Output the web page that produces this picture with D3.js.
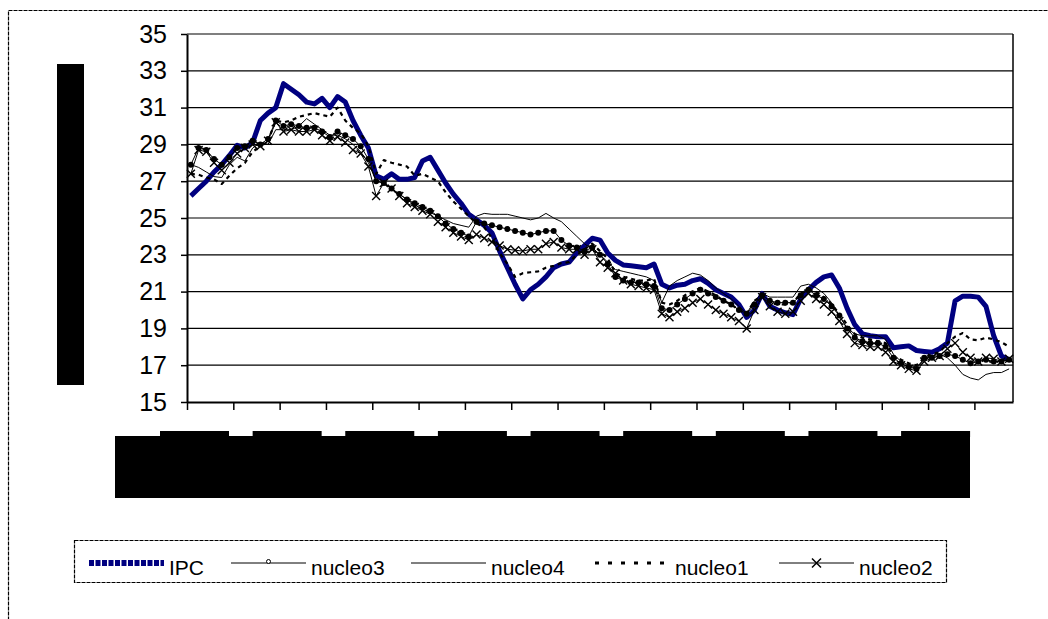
<!DOCTYPE html>
<html>
<head>
<meta charset="utf-8">
<script src="https://cdn.jsdelivr.net/npm/d3@7"></script>
<style>
  body { margin: 0; background: #fff; }
  text { font-family: Arial, "Liberation Sans", sans-serif; fill: #000; }
</style>
</head>
<body>
<div id="chart"></div>
<script>
// monthly series (107 months)
const ipc = [
  26.2, 26.6, 27.0, 27.5, 27.9, 28.4, 28.95, 28.8, 29.1, 30.3,
  30.7, 31.0, 32.3, 32.0, 31.7, 31.3, 31.2, 31.5, 31.0, 31.6,
  31.3, 30.3, 29.5, 28.8, 27.3, 27.1, 27.4, 27.1, 27.1, 27.2,
  28.1, 28.3, 27.6, 26.9, 26.3, 25.8, 25.2, 24.9, 24.6, 24.2,
  23.2, 22.3, 21.4, 20.6, 21.1, 21.4, 21.8, 22.3, 22.5, 22.6,
  23.1, 23.5, 23.9, 23.8, 23.1, 22.7, 22.45, 22.4, 22.35, 22.3,
  22.5, 21.4, 21.2, 21.35, 21.4, 21.6, 21.7, 21.45, 21.1, 20.9,
  20.7, 20.3, 19.6, 20.0, 20.9, 20.2, 20.0, 19.85, 19.75, 20.6,
  21.1, 21.5, 21.8, 21.9, 21.2, 20.1, 19.2, 18.7, 18.6, 18.55,
  18.55, 17.95, 18.0, 18.05, 17.8, 17.75, 17.7, 17.9, 18.2, 20.5,
  20.75, 20.75, 20.7, 20.2, 18.6, 17.5, 17.3
];
const nucleo3 = [
  27.9, 28.8, 28.7, 28.2, 27.9, 28.3, 28.8, 28.9, 29.2, 29.0,
  29.3, 30.3, 30.0, 30.1, 30.0, 29.9, 29.9, 29.7, 29.4, 29.7,
  29.5, 29.3, 28.9, 28.2, 27.0, 26.9, 26.6, 26.3, 26.0, 25.8,
  25.6, 25.4, 25.1, 24.7, 24.4, 24.2, 24.0, 24.8, 24.7, 24.6,
  24.5, 24.4, 24.3, 24.2, 24.1, 24.2, 24.3, 24.3, 23.8, 23.5,
  23.4, 23.2, 23.4, 23.0, 22.5, 21.8, 21.6, 21.5, 21.5, 21.4,
  21.3, 20.1, 20.0, 20.3, 20.6, 20.9, 21.1, 20.9, 20.7, 20.5,
  20.3, 20.0, 19.8, 20.3, 20.8, 20.5, 20.4, 20.4, 20.4, 20.8,
  21.1, 20.8, 20.6, 20.2, 19.7, 19.0, 18.5, 18.3, 18.2, 18.2,
  18.0, 17.4, 17.1, 16.9, 16.8, 17.4, 17.4, 17.5, 17.6, 17.5,
  17.3, 17.1, 17.2, 17.3, 17.2, 17.2, 17.3
];
const nucleo4 = [
  27.9, 27.75, 27.5, 27.25, 27.2, 27.9, 28.3, 28.1, 28.8, 29.1,
  29.0, 29.8, 29.8, 29.8, 30.0, 30.4, 30.1, 29.8, 29.5, 29.5,
  29.3, 29.0, 28.6, 28.0, 27.0, 26.9, 26.6, 26.3, 26.0, 25.7,
  25.5, 25.3, 25.1, 24.9, 24.7, 24.6, 24.5, 25.1, 25.25, 25.2,
  25.2, 25.2, 25.1, 25.0, 24.9, 25.0, 25.25, 25.0, 24.8, 24.4,
  24.0, 23.6, 23.3, 23.0, 22.6, 22.2, 22.1, 22.0, 21.9, 21.8,
  21.6, 20.4, 21.3, 21.6, 21.8, 22.0, 21.9, 21.6, 21.2, 20.9,
  20.6, 20.2, 19.8, 20.5, 20.9, 20.7, 20.7, 20.7, 20.7, 21.3,
  21.4, 21.2, 20.9, 20.4, 19.7, 19.0, 18.7, 18.6, 18.6, 18.6,
  18.4, 17.6, 17.2, 17.0, 16.9, 17.3, 17.5, 17.6, 17.4, 17.0,
  16.5, 16.3, 16.2, 16.5, 16.6, 16.6, 16.8
];
const nucleo1 = [
  27.4, 27.35, 27.2, 27.1, 26.85, 27.3, 27.7, 28.0, 28.6, 28.9,
  29.2, 30.3, 30.2, 30.3, 30.5, 30.6, 30.7, 30.6, 30.5, 31.0,
  30.3, 29.9, 29.6, 28.9, 27.4, 28.15, 28.0, 27.9, 27.8, 27.3,
  27.4, 27.2, 27.0, 26.4, 25.9, 25.5, 25.1, 24.7, 24.5, 23.9,
  23.1, 22.5, 21.8, 22.0, 22.05, 22.1, 22.3, 22.4, 22.55, 22.6,
  23.0, 23.3, 23.6, 23.2, 22.8, 22.0, 21.8, 21.7, 21.6, 21.6,
  21.7, 20.4, 20.3, 20.5, 20.8, 21.0, 21.2, 21.0, 20.8, 20.5,
  20.3, 20.0, 19.8, 20.5, 20.8, 20.4, 20.3, 20.3, 20.4, 20.9,
  21.1, 21.0, 20.7, 20.3, 19.8, 19.2, 18.7, 18.5, 18.4, 18.3,
  18.2, 17.5, 17.3, 17.1, 17.0, 17.4, 17.6, 17.7, 18.2, 18.55,
  18.75, 18.4, 18.35, 18.5, 18.4, 18.25, 18.0
];
const nucleo2 = [
  27.4, 28.7, 28.6, 28.0, 27.6, 28.0, 28.5, 28.8, 29.0, 28.9,
  29.2, 30.2, 29.7, 29.8, 29.7, 29.7, 29.8, 29.5, 29.2, 29.4,
  29.1, 28.7, 28.5, 27.8, 26.2, 26.9, 26.6, 26.2, 25.8, 25.6,
  25.4, 25.2, 24.8, 24.5, 24.2, 24.0, 23.8, 24.1, 23.9, 23.7,
  23.5, 23.3, 23.25, 23.2, 23.3, 23.3, 23.6, 23.7, 23.4, 23.3,
  23.3, 23.0, 23.3, 22.6, 22.3, 22.0, 21.6, 21.4, 21.3, 21.2,
  21.1, 19.8, 19.6, 19.9, 20.1, 20.4, 20.6, 20.3, 20.0, 19.8,
  19.6, 19.4, 19.0, 20.0, 20.7, 20.2, 19.9, 19.8, 19.9, 20.5,
  20.9, 20.6, 20.3, 19.9, 19.4, 18.7, 18.2, 18.1, 18.0, 18.0,
  17.7, 17.2, 17.0, 16.8, 16.7, 17.2, 17.4, 17.5, 17.9, 18.2,
  17.7, 17.4, 17.2, 17.4, 17.35, 17.2, 17.35
];
const seriesNames = ["IPC", "nucleo3", "nucleo4", "nucleo1", "nucleo2"];
const yTicks = [15, 17, 19, 21, 23, 25, 27, 29, 31, 33, 35];
const xTickEvery = 6; // one tick every six months

// look of each series
const styles = {
  IPC:     { values: ipc,     stroke: "#000080", width: 5,   dash: null,  marker: null },
  nucleo3: { values: nucleo3, stroke: "#000",    width: 1,   dash: null,  marker: "dot" },
  nucleo4: { values: nucleo4, stroke: "#000",    width: 1,   dash: null,  marker: null },
  nucleo1: { values: nucleo1, stroke: "#000",    width: 2.2, dash: "4,4", marker: null },
  nucleo2: { values: nucleo2, stroke: "#000",    width: 1,   dash: null,  marker: "x" }
};

const W = 1048, H = 619;
const plot = { left: 187, right: 1013, top: 34, bottom: 402 };
const n = ipc.length;

const svg = d3.select("#chart").append("svg")
  .attr("width", W).attr("height", H)
  .style("display", "block");

svg.append("rect").attr("width", W).attr("height", H).attr("fill", "#fff");

// outer frame of the chart (runs off the page on right/bottom)
svg.append("rect")
  .attr("x", 8.5).attr("y", 10.5)
  .attr("width", 1080).attr("height", 640)
  .attr("fill", "none").attr("stroke", "#000")
  .attr("stroke-width", 1.2).attr("stroke-dasharray", "4,1");

let x = d3.scaleLinear().domain([0, n]).range([plot.left, plot.right]);
let y = d3.scaleLinear().domain([15, 35]).range([plot.bottom, plot.top]);

// gridlines
svg.append("g").selectAll("line")
  .data(yTicks.filter(d => d > 15))
  .enter().append("line")
  .attr("x1", plot.left).attr("x2", plot.right)
  .attr("y1", d => y(d)).attr("y2", d => y(d))
  .attr("stroke", "#000").attr("stroke-width", 1.2);

// right edge of plot
svg.append("line")
  .attr("x1", plot.right).attr("x2", plot.right)
  .attr("y1", plot.top).attr("y2", plot.bottom)
  .attr("stroke", "#000").attr("stroke-width", 1.5);

// axes
let yAxis = d3.axisLeft(y).tickValues(yTicks).tickSize(6).tickSizeOuter(0).tickPadding(14);
let yAxisGroup = svg.append("g")
  .attr("transform", "translate(" + plot.left + ",0)")
  .call(yAxis);
yAxisGroup.selectAll("text").attr("font-size", 25).style("font-family", "Arial, 'Liberation Sans', sans-serif");

let xTicks = d3.range(0, n, xTickEvery);
let xAxis = d3.axisBottom(x).tickValues(xTicks).tickFormat("").tickSize(8).tickSizeOuter(0);
let xAxisGroup = svg.append("g")
  .attr("transform", "translate(0," + plot.bottom + ")")
  .call(xAxis);

[yAxisGroup, xAxisGroup].forEach(g => {
  g.select(".domain").attr("stroke", "#000").attr("stroke-width", 2);
  g.selectAll(".tick line").attr("stroke", "#000").attr("stroke-width", 1.5);
});

// ---- LINES ----
const px = i => x(i + 0.5);
seriesNames.forEach(name => {
  const s = styles[name];
  const line = d3.line().x((d, i) => px(i)).y(d => y(d));
  svg.append("path")
    .datum(s.values)
    .attr("d", line)
    .attr("fill", "none")
    .attr("stroke", s.stroke)
    .attr("stroke-width", s.width)
    .attr("stroke-linejoin", "round")
    .attr("stroke-dasharray", s.dash);

  if (s.marker === "dot") {
    svg.append("g").selectAll("circle")
      .data(s.values).enter().append("circle")
      .attr("cx", (d, i) => px(i)).attr("cy", d => y(d))
      .attr("r", 3).attr("fill", "#000");
  }
  if (s.marker === "x") {
    svg.append("g").selectAll("path")
      .data(s.values).enter().append("path")
      .attr("d", (d, i) => {
        const cx = px(i), cy = y(d), r = 4;
        return `M${cx - r},${cy - r}L${cx + r},${cy + r}M${cx - r},${cy + r}L${cx + r},${cy - r}`;
      })
      .attr("stroke", "#000").attr("stroke-width", 1.4);
  }
});

// hidden (blacked-out) axis titles / category labels
svg.append("rect")
  .attr("x", 57).attr("y", 64).attr("width", 27).attr("height", 321)
  .attr("fill", "#000");
svg.append("rect")
  .attr("x", 115).attr("y", 436).attr("width", 855).attr("height", 62)
  .attr("fill", "#000");
svg.append("g").selectAll("rect")
  .data(xTicks.filter((d, i) => i % 2 === 0))
  .enter().append("rect")
  .attr("x", d => x(d) - 27).attr("y", 431)
  .attr("width", 69).attr("height", 6)
  .attr("fill", "#000");

// ---- LEGEND ----
const legend = svg.append("g");
legend.append("rect")
  .attr("x", 74.5).attr("y", 540.5).attr("width", 872).attr("height", 42)
  .attr("fill", "#fff").attr("stroke", "#000")
  .attr("stroke-width", 1.2).attr("stroke-dasharray", "4,1");

const legendX = [89, 231, 411, 595, 779];
const sampleLen = 75;
const ly = 563;
seriesNames.forEach((name, k) => {
  const s = styles[name];
  const x0 = legendX[k];
  const g = legend.append("g");
  if (name === "IPC") {
    g.append("line")
      .attr("x1", x0).attr("x2", x0 + sampleLen).attr("y1", ly).attr("y2", ly)
      .attr("stroke", s.stroke).attr("stroke-width", 6).attr("stroke-dasharray", "5,1.5");
  } else if (name === "nucleo1") {
    g.append("line")
      .attr("x1", x0).attr("x2", x0 + sampleLen).attr("y1", ly).attr("y2", ly)
      .attr("stroke", "#000").attr("stroke-width", 3).attr("stroke-dasharray", "4,9");
  } else {
    g.append("line")
      .attr("x1", x0).attr("x2", x0 + sampleLen).attr("y1", ly).attr("y2", ly)
      .attr("stroke", "#000").attr("stroke-width", 1);
  }
  const cx = x0 + sampleLen / 2;
  if (s.marker === "dot") {
    g.append("circle").attr("cx", cx).attr("cy", ly - 1.5).attr("r", 2)
      .attr("fill", "#fff").attr("stroke", "#000").attr("stroke-width", 1);
  }
  if (s.marker === "x") {
    const r = 4.5;
    g.append("path")
      .attr("d", `M${cx - r},${ly - r}L${cx + r},${ly + r}M${cx - r},${ly + r}L${cx + r},${ly - r}`)
      .attr("stroke", "#000").attr("stroke-width", 1.5);
  }
  g.append("text")
    .attr("x", x0 + sampleLen + 5).attr("y", ly + 12)
    .attr("font-size", 21)
    .text(name);
});
</script>
</body>
</html>
